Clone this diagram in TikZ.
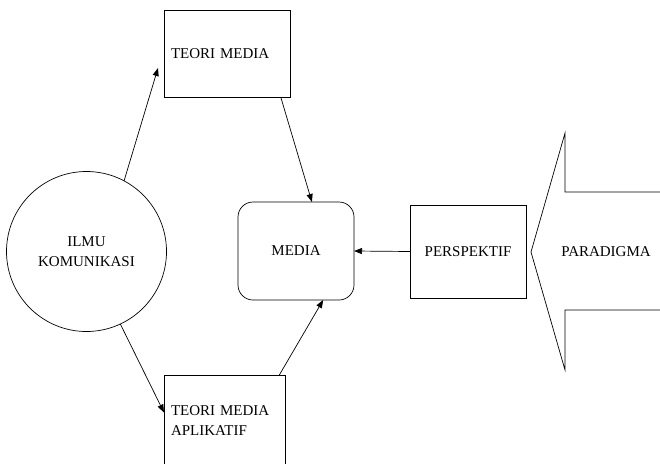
\documentclass[tikz,border=0pt]{standalone}
\usepackage{fontspec}
\setmainfont{Liberation Serif}
\usepackage{tikz}
\usetikzlibrary{arrows.meta}

\begin{document}
\begin{tikzpicture}
[
x=1pt, y=-1pt,
every node/.style={font=\fontsize{15}{20}\selectfont, line width=0.7pt, outer sep=0pt},
box/.style={draw, rectangle, inner sep=7pt},
link/.style={line width=0.7pt, -{Triangle[length=8pt,width=6pt]}}
]

\clip (0,0) rectangle (660,463);

\node[draw, circle, minimum size=160pt, align=center] (ilmu) at (86.5,251.5) {ILMU\\KOMUNIKASI};
\node[box, minimum width=126pt, minimum height=87pt, text width=112pt, align=left] (teori) at (227,53.5) {TEORI MEDIA};
\node[box, minimum width=121pt, minimum height=92pt, text width=107pt, align=left] (aplik) at (224.5,421) {TEORI MEDIA\\APLIKATIF};
\node[box, rounded corners=15pt, minimum width=116pt, minimum height=98pt] (media) at (296,251) {MEDIA};
\node[box, minimum width=116pt, minimum height=93pt] (persp) at (468,251.5) {PERSPEKTIF};

% big arrow
\draw[line width=0.7pt] (680,192) -- (565,192) -- (565,133) -- (531,252)
  -- (565,370) -- (565,310) -- (680,310);
\node (para) at (606,252) {PARADIGMA};

\draw[link] (ilmu.62) -- ([xshift=-6pt]teori.193);
\draw[link] (teori.-39) -- (media.72);
\draw[link] (ilmu.-65) -- (aplik.172);
\draw[link] (aplik.40) -- (media.-61);
\draw[link] (persp.west) -- (media.east);
\end{tikzpicture}
\end{document}
